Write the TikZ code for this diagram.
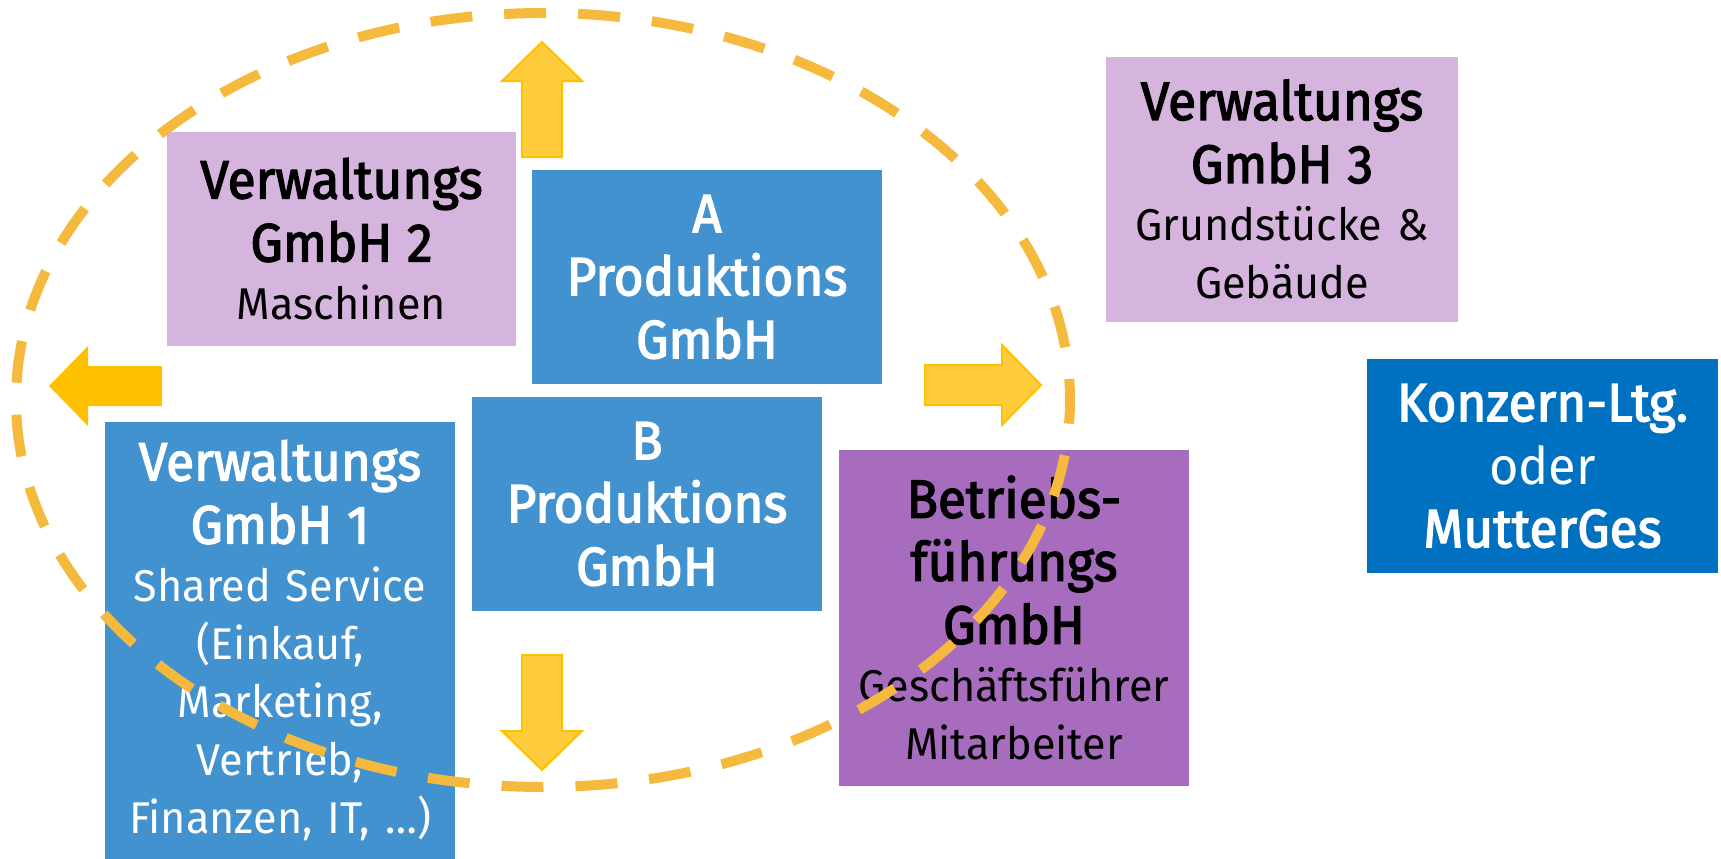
\documentclass[tikz,border=0pt]{standalone}
\usepackage{fontspec}
\setmainfont{Fira Sans}[FakeStretch=0.97, Ligatures=NoCommon]
\newfontfamily\headfam{Fira Sans}[FakeStretch=0.95, FakeBold=2.5, Ligatures=NoCommon]
\definecolor{lilac}{HTML}{D5B5DD}
\definecolor{midblue}{HTML}{4292CF}
\definecolor{darkpurple}{HTML}{A86CBE}
\definecolor{deepblue}{HTML}{0070C0}
\definecolor{ringcol}{HTML}{F5B93E}
\definecolor{arrowfill}{HTML}{FFCD3C}
\definecolor{arrowline}{HTML}{FFC000}
\newcommand\titletxt{\headfam\fontsize{54}{58}\selectfont}
\newcommand\subtxt{\fontsize{44.5}{58}\selectfont}
\begin{document}
\begin{tikzpicture}[x=1pt,y=-1pt,
  box/.style={rectangle, inner sep=0pt, align=center, font=\subtxt},
  lightbox/.style={box, fill=lilac, text=black},
  bluebox/.style={box, fill=midblue, text=white},
  blockarrow/.style={fill=arrowfill, draw=arrowline, line width=2pt, line join=miter},
  ring/.style={draw=ringcol, line width=10pt, dash pattern=on 42pt off 32pt, dash phase=21pt}
]
\useasboundingbox (0,0) rectangle (1721,859);

\node[lightbox, minimum width=349pt, minimum height=214pt, text width=349pt] (vg2) at (341.5,239)
  {{\titletxt Verwaltungs\\[5pt]GmbH 2\\}Maschinen};
\node[bluebox, minimum width=350pt, minimum height=214pt, text width=350pt] (pa) at (707,277)
  {\titletxt A\\[5pt]Produktions\\[5pt]GmbH};
\node[bluebox, minimum width=350pt, minimum height=214pt, text width=350pt] (pb) at (647,504)
  {\titletxt B\\[5pt]Produktions\\[5pt]GmbH};
\node[bluebox, minimum width=350pt, minimum height=437pt, text width=350pt] (vg1) at (280,640.5)
  {{\titletxt Verwaltungs\\[5pt]GmbH 1\\}Shared Service\\(Einkauf,\\Marketing,\\Vertrieb,\\Finanzen, IT, \dots)};
\node[box, fill=darkpurple, text=black, minimum width=350pt, minimum height=336pt, text width=350pt] (bf) at (1014,618)
  {{\titletxt Betriebs-\\[5pt]führungs\\[5pt]GmbH\\}Geschäftsführer\\Mitarbeiter};
\node[lightbox, minimum width=352pt, minimum height=265pt, text width=352pt] (vg3) at (1282,189.5)
  {{\titletxt Verwaltungs\\[5pt]GmbH 3\\}Grundstücke \&\\Gebäude};
\node[box, fill=deepblue, text=white, minimum width=351pt, minimum height=214pt, text width=351pt] (kl) at (1542.5,466)
  {{\titletxt Konzern-Ltg.}\\[5pt]{\fontsize{52}{58}\selectfont oder}\\[5pt]{\titletxt MutterGes}};

% block arrows
\draw[blockarrow] (522,157) -- (522,81) -- (502,81) -- (542,42) -- (582,81) -- (562,81) -- (562,157) -- cycle;
\draw[blockarrow] (522,655) -- (522,731) -- (502,731) -- (542,770) -- (582,731) -- (562,731) -- (562,655) -- cycle;
\draw[blockarrow] (925,365) -- (1002,365) -- (1002,345) -- (1041,385) -- (1002,425) -- (1002,405) -- (925,405) -- cycle;
\fill[arrowline] (162,366) -- (88,366) -- (88,346) -- (49,386) -- (88,426) -- (88,406) -- (162,406) -- cycle;

% dashed ring
\draw[ring] (543,400) ellipse [x radius=527pt, y radius=387pt];
\end{tikzpicture}
\end{document}
